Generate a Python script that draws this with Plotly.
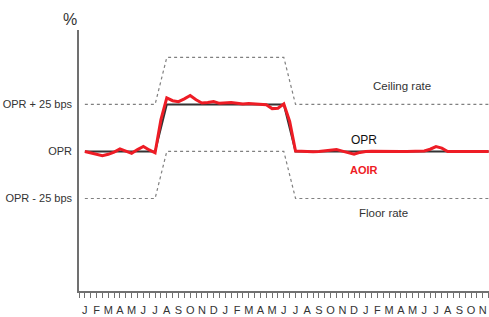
import plotly.graph_objects as go

# Month tick labels (Jan of year 1 through Nov of year 3)
month_labels = ["J", "F", "M", "A", "M", "J", "J", "A", "S", "O", "N", "D",
                "J", "F", "M", "A", "M", "J", "J", "A", "S", "O", "N", "D",
                "J", "F", "M", "A", "M", "J", "J", "A", "S", "O", "N"]

# Policy path (bps relative to OPR) at month positions
opr_t = [0, 6, 7, 17, 18, 34.5]
opr_v = [0, 0, 25, 25, 0, 0]
ceiling_v = [25, 25, 50, 50, 25, 25]
floor_v = [-25, -25, 0, 0, -25, -25]

# AOIR, sampled every half month (bps relative to OPR)
aoir_t = [i / 2 for i in range(70)]
aoir_v = [0.0, -0.8, -1.6, -2.2, -1.5, -0.3, 1.4, 0.0, -1.0, 1.0,
          2.7, 0.8, -0.7, 17.0, 28.5, 27.0, 26.5, 28.0, 29.8, 27.5,
          25.8, 26.0, 26.6, 25.6, 25.8, 26.0, 25.7, 25.2, 25.5, 25.3,
          25.2, 24.8, 22.8, 23.0, 25.3, 16.0, 0.2, 0.0, 0.0, -0.2,
          0.0, 0.3, 0.8, 1.0, 0.2, -0.5, -1.5, -0.5, 0.0, 0.1,
          0.0, 0.0, 0.0, 0.0, 0.0, 0.0, 0.0, 0.0, 0.3, 1.2,
          2.6, 1.8, 0.0, 0.0, 0.0, 0.0, 0.0, 0.0, 0.0, 0.0]

y_tick_vals = [25, 0, -25]
y_tick_text = ["OPR + 25 bps", "OPR", "OPR - 25 bps"]

FONT = "Liberation Sans, Arial, sans-serif"

fig = go.Figure()
dash_style = dict(color="#808080", width=1.2, dash="dot")
fig.add_trace(go.Scatter(x=opr_t, y=ceiling_v, mode="lines", line=dash_style,
                         hoverinfo="skip", showlegend=False))
fig.add_trace(go.Scatter(x=opr_t, y=floor_v, mode="lines", line=dash_style,
                         hoverinfo="skip", showlegend=False))
fig.add_trace(go.Scatter(x=opr_t, y=opr_v, mode="lines",
                         line=dict(color="#333333", width=2), showlegend=False))
fig.add_trace(go.Scatter(x=aoir_t, y=aoir_v, mode="lines",
                         line=dict(color="#ee1c25", width=3), showlegend=False))

tick_vals = [i / 2 - 0.5 for i in range(71)]
tick_text = [month_labels[int(v)] if float(v).is_integer() and 0 <= v < len(month_labels) else ""
             for v in tick_vals]

fig.update_xaxes(range=[-0.5, 34.53], showgrid=False, zeroline=False,
                 automargin=False,
                 showline=True, linecolor="#707070", linewidth=1.5,
                 tickmode="array", tickvals=tick_vals, ticktext=tick_text,
                 ticks="outside", ticklen=5, tickwidth=1, tickcolor="#707070",
                 ticklabelstandoff=3,
                 tickfont=dict(family=FONT, size=11, color="#333333"))
fig.update_yaxes(range=[-74.2, 64.6], showgrid=False, zeroline=False,
                 automargin=False,
                 showline=True, linecolor="#707070", linewidth=1.5,
                 tickmode="array", tickvals=y_tick_vals, ticktext=y_tick_text,
                 ticks="", ticklabelstandoff=3,
                 tickfont=dict(family=FONT, size=11, color="#333333"))

annos = [
    dict(x=27.1, y=34.8, text="Ceiling rate", font=dict(size=11.5, color="#333333")),
    dict(x=23.85, y=6.1, text="OPR", font=dict(size=12, color="#111111")),
    dict(x=23.85, y=-9.8, text="<b>AOIR</b>", font=dict(size=11, color="#ee1c25")),
    dict(x=25.5, y=-32.7, text="Floor rate", font=dict(size=11.5, color="#333333")),
]
for a in annos:
    a["font"]["family"] = FONT
    fig.add_annotation(xref="x", yref="y", showarrow=False, **a)

fig.add_annotation(xref="paper", yref="paper", x=-0.022, y=1.04, text="%",
                   xanchor="center", yanchor="middle",
                   showarrow=False, font=dict(family=FONT, size=16, color="#333333"))

fig.update_layout(width=489, height=317, margin=dict(l=79, r=0, t=30, b=26),
                  plot_bgcolor="white", paper_bgcolor="white")

fig.write_html("out.html", config={"displayModeBar": False},
               post_script="document.body.style.margin='0';document.body.style.overflow='hidden';")
